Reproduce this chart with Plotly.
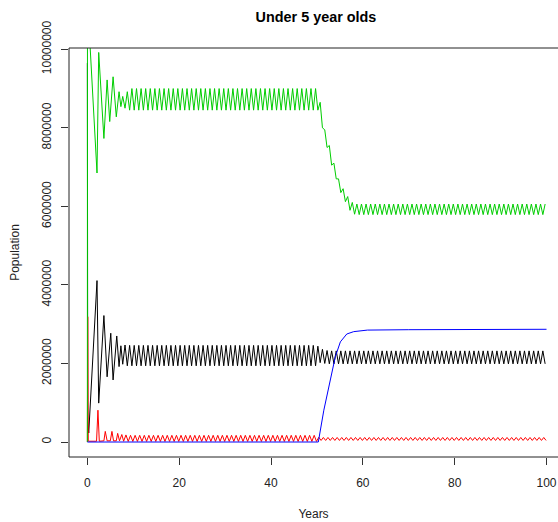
import plotly.graph_objects as go

# ---------------- data (values in millions) ----------------
x_ticks = [0, 20, 40, 60, 80, 100]
y_ticks = [0, 2000000, 4000000, 6000000, 8000000, 10000000]
y_tick_labels = ["0", "2000000", "4000000", "6000000", "8000000", "10000000"]

# early transient points (years, millions)
green_early_t = [0, 0.02, 0.35, 1.6, 2.1, 2.47, 3.6, 4.3, 4.87, 5.6, 6.3, 6.9, 7.3, 7.7, 8.2]
green_early_m = [0, 10.8, 10.6, 7.77, 6.85, 9.92, 7.73, 9.22, 8.16, 9.3, 8.28, 8.92, 8.54, 8.8, 8.5]

black_early_t = [0, 0.08, 0.3, 2.1, 2.47, 3.6, 4.3, 5.1, 5.6, 6.4, 6.9, 7.3, 7.7, 8.2]
black_early_m = [9.65, 0.56, 0.23, 4.11, 0.99, 3.22, 1.66, 2.77, 1.58, 2.70, 1.92, 2.45, 1.98, 2.47]

red_early_t = [0, 0.08, 0.2, 2.0, 2.3, 2.6, 3.6, 3.9, 4.3, 5.0, 5.35, 5.7, 6.3, 6.6, 7.0, 7.5, 7.9, 8.4]
red_early_m = [0, 3.19, 0.02, 0.02, 0.81, 0.02, 0.03, 0.27, 0.03, 0.03, 0.27, 0.03, 0.03, 0.22, 0.03, 0.19, 0.02, 0.18]

blue_t = [0, 50.3, 51.5, 52.9, 54.0, 55.1, 56.5, 58.0, 61.0, 70.0, 100.0]
blue_m = [0, 0, 0.81, 1.54, 2.17, 2.55, 2.75, 2.81, 2.85, 2.86, 2.87]

# yearly seasonal extremes, years 8..99
years = list(range(8, 100))

green_peak_m = [
    8.92, 9.00, 9.00, 9.00, 9.00, 9.00, 9.00, 9.00, 9.00, 9.00,
    9.00, 9.00, 9.00, 9.00, 9.00, 9.00, 9.00, 9.00, 9.00, 9.00,
    9.00, 9.00, 9.00, 9.00, 9.00, 9.00, 9.00, 9.00, 9.00, 9.00,
    9.00, 9.00, 9.00, 9.00, 9.00, 9.00, 9.00, 9.00, 9.00, 9.00,
    9.00, 9.00, 8.65, 7.95, 7.55, 7.10, 6.70, 6.45, 6.25, 6.10,
    6.06, 6.06, 6.06, 6.06, 6.06, 6.06, 6.06, 6.06, 6.06, 6.06,
    6.06, 6.06, 6.06, 6.06, 6.06, 6.06, 6.06, 6.06, 6.06, 6.06,
    6.06, 6.06, 6.06, 6.06, 6.06, 6.06, 6.06, 6.06, 6.06, 6.06,
    6.06, 6.06, 6.06, 6.06, 6.06, 6.06, 6.06, 6.06, 6.06, 6.06,
    6.06, 6.06,
]
green_trough_m = [
    8.45, 8.45, 8.45, 8.45, 8.45, 8.45, 8.45, 8.45, 8.45, 8.45,
    8.45, 8.45, 8.45, 8.45, 8.45, 8.45, 8.45, 8.45, 8.45, 8.45,
    8.45, 8.45, 8.45, 8.45, 8.45, 8.45, 8.45, 8.45, 8.45, 8.45,
    8.45, 8.45, 8.45, 8.45, 8.45, 8.45, 8.45, 8.45, 8.45, 8.45,
    8.45, 8.45, 8.00, 7.50, 7.05, 6.70, 6.35, 6.12, 5.90, 5.80,
    5.79, 5.79, 5.79, 5.79, 5.79, 5.79, 5.79, 5.79, 5.79, 5.79,
    5.79, 5.79, 5.79, 5.79, 5.79, 5.79, 5.79, 5.79, 5.79, 5.79,
    5.79, 5.79, 5.79, 5.79, 5.79, 5.79, 5.79, 5.79, 5.79, 5.79,
    5.79, 5.79, 5.79, 5.79, 5.79, 5.79, 5.79, 5.79, 5.79, 5.79,
    5.79, 5.79,
]
black_trough_m = [
    1.94, 1.94, 1.94, 1.94, 1.94, 1.94, 1.94, 1.94, 1.94, 1.94,
    1.94, 1.94, 1.94, 1.94, 1.94, 1.94, 1.94, 1.94, 1.94, 1.94,
    1.94, 1.94, 1.94, 1.94, 1.94, 1.94, 1.94, 1.94, 1.94, 1.94,
    1.94, 1.94, 1.94, 1.94, 1.94, 1.94, 1.94, 1.94, 1.94, 1.94,
    1.94, 1.94, 2.02, 2.00, 1.99, 1.99, 1.99, 1.99, 1.99, 1.99,
    1.99, 1.99, 1.99, 1.99, 1.99, 1.99, 1.99, 1.99, 1.99, 1.99,
    1.99, 1.99, 1.99, 1.99, 1.99, 1.99, 1.99, 1.99, 1.99, 1.99,
    1.99, 1.99, 1.99, 1.99, 1.99, 1.99, 1.99, 1.99, 1.99, 1.99,
    1.99, 1.99, 1.99, 1.99, 1.99, 1.99, 1.99, 1.99, 1.99, 1.99,
    1.99, 1.99,
]
black_peak_m = [
    2.46, 2.46, 2.46, 2.46, 2.46, 2.46, 2.46, 2.46, 2.46, 2.46,
    2.46, 2.46, 2.46, 2.46, 2.46, 2.46, 2.46, 2.46, 2.46, 2.46,
    2.46, 2.46, 2.46, 2.46, 2.46, 2.46, 2.46, 2.46, 2.46, 2.46,
    2.46, 2.46, 2.46, 2.46, 2.46, 2.46, 2.46, 2.46, 2.46, 2.46,
    2.46, 2.44, 2.36, 2.33, 2.32, 2.32, 2.32, 2.32, 2.32, 2.32,
    2.32, 2.32, 2.32, 2.32, 2.32, 2.32, 2.32, 2.32, 2.32, 2.32,
    2.32, 2.32, 2.32, 2.32, 2.32, 2.32, 2.32, 2.32, 2.32, 2.32,
    2.32, 2.32, 2.32, 2.32, 2.32, 2.32, 2.32, 2.32, 2.32, 2.32,
    2.32, 2.32, 2.32, 2.32, 2.32, 2.32, 2.32, 2.32, 2.32, 2.32,
    2.32, 2.32,
]
red_trough_m = [
    0.015, 0.015, 0.015, 0.015, 0.015, 0.015, 0.015, 0.015, 0.015, 0.015,
    0.015, 0.015, 0.015, 0.015, 0.015, 0.015, 0.015, 0.015, 0.015, 0.015,
    0.015, 0.015, 0.015, 0.015, 0.015, 0.015, 0.015, 0.015, 0.015, 0.015,
    0.015, 0.015, 0.015, 0.015, 0.015, 0.015, 0.015, 0.015, 0.015, 0.015,
    0.015, 0.015, 0.04, 0.04, 0.04, 0.04, 0.04, 0.04, 0.04, 0.04,
    0.04, 0.04, 0.04, 0.04, 0.04, 0.04, 0.04, 0.04, 0.04, 0.04,
    0.04, 0.04, 0.04, 0.04, 0.04, 0.04, 0.04, 0.04, 0.04, 0.04,
    0.04, 0.04, 0.04, 0.04, 0.04, 0.04, 0.04, 0.04, 0.04, 0.04,
    0.04, 0.04, 0.04, 0.04, 0.04, 0.04, 0.04, 0.04, 0.04, 0.04,
    0.04, 0.04,
]
red_peak_m = [
    0.17, 0.17, 0.17, 0.17, 0.17, 0.17, 0.17, 0.17, 0.17, 0.17,
    0.17, 0.17, 0.17, 0.17, 0.17, 0.17, 0.17, 0.17, 0.17, 0.17,
    0.17, 0.17, 0.17, 0.17, 0.17, 0.17, 0.17, 0.17, 0.17, 0.17,
    0.17, 0.17, 0.17, 0.17, 0.17, 0.17, 0.17, 0.17, 0.17, 0.17,
    0.17, 0.12, 0.115, 0.115, 0.115, 0.115, 0.115, 0.115, 0.115, 0.115,
    0.115, 0.115, 0.115, 0.115, 0.115, 0.115, 0.115, 0.115, 0.115, 0.115,
    0.115, 0.115, 0.115, 0.115, 0.115, 0.115, 0.115, 0.115, 0.115, 0.115,
    0.115, 0.115, 0.115, 0.115, 0.115, 0.115, 0.115, 0.115, 0.115, 0.115,
    0.115, 0.115, 0.115, 0.115, 0.115, 0.115, 0.115, 0.115, 0.115, 0.115,
    0.115, 0.115,
]


def build(early_t, early_m, first_vals, second_vals, off1, off2, t_end=100.0):
    xs = list(early_t)
    ys = [v * 1e6 for v in early_m]
    for y, a, b in zip(years, first_vals, second_vals):
        for t, v in ((y + off1, a), (y + off2, b)):
            if t <= t_end:
                xs.append(t)
                ys.append(v * 1e6)
    return xs, ys


gx, gy = build(green_early_t, green_early_m, green_peak_m, green_trough_m, 0.7, 1.2)
kx, ky = build(black_early_t, black_early_m, black_trough_m, black_peak_m, 0.7, 1.2)
rx, ry = build(red_early_t, red_early_m, red_trough_m, red_peak_m, 0.9, 1.4)
bx = list(blue_t)
by = [v * 1e6 for v in blue_m]

fig = go.Figure()
for xs, ys, col in ((kx, ky, "#000000"), (rx, ry, "#FF0000"),
                    (gx, gy, "#00CD00"), (bx, by, "#0000FF")):
    fig.add_trace(go.Scatter(x=xs, y=ys, mode="lines",
                             line=dict(color=col, width=1),
                             hoverinfo="skip", showlegend=False))

font = "Liberation Sans, Arial, Helvetica, sans-serif"
fig.update_layout(
    width=558, height=522,
    margin=dict(l=69, r=0, t=48, b=65),
    paper_bgcolor="white", plot_bgcolor="white",
    font=dict(family=font, size=12, color="#000000"),
    title=dict(text="<b>Under 5 year olds</b>", x=316 / 558, xanchor="center",
               xref="container", y=1 - 17 / 522, yanchor="middle", yref="container",
               font=dict(size=14.4, color="#000000", family=font)),
    xaxis=dict(range=[-4, 102.5], tickvals=x_ticks, ticks="outside", ticklen=7,
               tickcolor="#333333", tickwidth=1, showgrid=False, zeroline=False,
               showline=False, tickfont=dict(size=12, color="#222222"),
               ticklabelstandoff=8,
               title=dict(text="Years", font=dict(size=12, color="#222222"), standoff=20)),
    yaxis=dict(range=[-0.382e6, 10.033e6], tickvals=y_ticks, ticktext=y_tick_labels,
               tickangle=-90, ticks="outside", ticklen=7, tickcolor="#333333",
               tickwidth=1, showgrid=False, zeroline=False, showline=False,
               tickfont=dict(size=12, color="#222222"),
               ticklabelstandoff=5,
               title=dict(text="Population", font=dict(size=12, color="#222222"), standoff=18)),
    shapes=[dict(type="rect", xref="paper", yref="paper", x0=0, x1=1.05, y0=0, y1=1,
                 line=dict(color="#222222", width=1), fillcolor="rgba(0,0,0,0)", layer="above")],
)

fig.write_html("out.html")
